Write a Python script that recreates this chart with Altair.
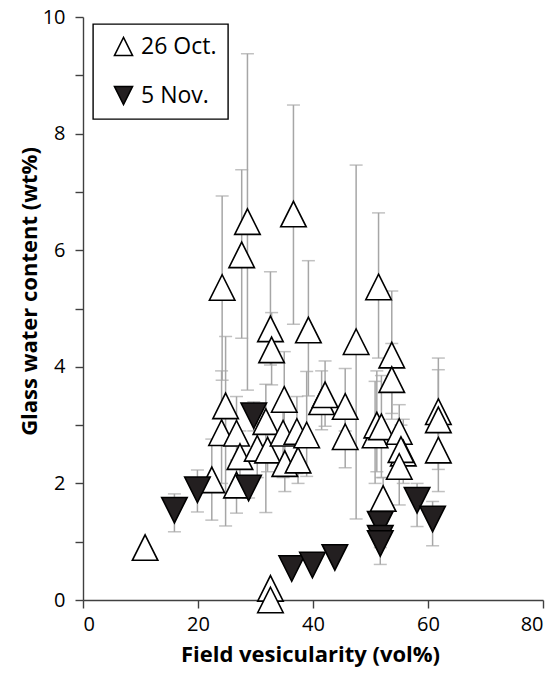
import altair as alt
import pandas as pd

# 26 Oct. (open up-triangles)
oct_x = [10.8, 22.4, 24.2, 24.8, 24.1, 26.7, 26.7, 27.3, 27.6, 28.6, 30.3, 31.8, 32.1,
         32.6, 32.8, 32.6, 32.6, 34.8, 35.0, 35.1, 36.6, 37.2, 37.4, 38.9, 39.2, 41.5,
         42.1, 45.6, 45.6, 47.5, 50.8, 51.1, 51.9, 51.4, 52.2, 53.7, 53.7, 55.0, 55.7,
         55.3, 55.0, 61.8, 61.8, 61.8]
oct_y = [0.90, 2.06, 5.36, 3.33, 2.87, 2.86, 1.97, 2.46, 5.92, 6.49, 2.60, 3.06, 2.57,
         4.65, 4.29, 0.20, 0.00, 2.86, 3.44, 2.34, 6.62, 2.89, 2.40, 2.83, 4.63, 3.40,
         3.52, 3.32, 2.80, 4.43, 2.83, 3.00, 2.97, 5.37, 1.74, 4.20, 3.78, 2.89, 2.52,
         2.58, 2.29, 3.23, 3.09, 2.57]
oct_lo = [None, 1.37, 3.77, 1.27, 2.00, 2.30, 1.49, 2.00, 4.49, 3.60, 2.10, 1.50, 2.20,
          4.03, 3.69, None, None, 2.10, 2.70, 1.86, 4.73, 2.17, 2.00, 2.12, 3.50, 2.92,
          2.98, 2.90, 2.27, 1.39, 2.00, 2.20, 2.10, 4.15, 1.40, 3.20, 3.10, 2.55, 2.00,
          2.10, 1.63, 2.50, 2.24, 1.86]
oct_hi = [None, 2.76, 6.93, 4.52, 3.93, 3.49, 2.40, 2.90, 7.38, 9.37, 3.20, 3.70, 3.00,
          5.63, 4.93, None, None, 3.30, 4.26, 2.80, 8.49, 3.49, 2.80, 3.92, 5.82, 3.93,
          4.10, 3.97, 3.30, 7.46, 3.75, 3.93, 3.85, 6.64, 2.10, 5.30, 4.40, 3.35, 3.10,
          3.00, 2.90, 4.15, 3.95, 3.00]

# 5 Nov. (filled down-triangles)
nov_x = [15.9, 19.9, 28.8, 29.7, 36.3, 39.9, 43.8, 51.7, 51.7, 51.7, 58.1, 60.8]
nov_y = [1.54, 1.89, 1.92, 3.16, 0.54, 0.60, 0.73, 1.30, 1.06, 0.97, 1.71, 1.39]
nov_lo = [1.17, 1.51, 1.75, 2.90, None, None, None, 1.10, 0.90, 0.61, 1.26, 0.93]
nov_hi = [1.82, 2.23, 2.10, 3.40, None, None, None, 1.50, 1.20, 1.10, 2.00, 1.69]

series = ["26 Oct.", "5 Nov."]

df = pd.concat([
    pd.DataFrame({"x": oct_x, "y": oct_y, "lo": oct_lo, "hi": oct_hi, "s": series[0]}),
    pd.DataFrame({"x": nov_x, "y": nov_y, "lo": nov_lo, "hi": nov_hi, "s": series[1]}),
], ignore_index=True)
df["order"] = range(len(df))

FONT = "Open Sans"
up = "M0,-1L1,1L-1,1Z"
down = "M-1,-1L1,-1L0,1Z"

xs = alt.Scale(domain=[0, 80], nice=False, zero=False)
ys = alt.Scale(domain=[0, 10], nice=False, zero=False)

x_enc = alt.X("x:Q", scale=xs, axis=alt.Axis(
    values=[0, 20, 40, 60, 80], title="Field vesicularity (vol%)", grid=False,
    tickSize=8, labelPadding=6, titleX=227, titleY=54, titleBaseline="middle",
    titleAlign="center"))
y_enc = alt.Y("y:Q", scale=ys, axis=alt.Axis(
    values=list(range(0, 11)),
    labelExpr="datum.value % 2 == 0 ? format(datum.value, 'd') : ''",
    title="Glass water content (wt%)", grid=False, tickSize=8, labelPadding=10,
    titleX=-54, titleY=274, titleBaseline="middle", titleAlign="center", titleAngle=270))

base = alt.Chart(df)
bars = base.transform_filter("isValid(datum.lo)")

rules = bars.mark_rule(color="#a6a6a6", strokeWidth=1.5).encode(
    x=alt.X("x:Q", scale=xs), y=alt.Y("lo:Q", scale=ys), y2="hi:Q")
cap_lo = bars.mark_tick(color="#a6a6a6", thickness=1.5, size=13, orient="horizontal").encode(
    x=alt.X("x:Q", scale=xs), y=alt.Y("lo:Q", scale=ys))
cap_hi = bars.mark_tick(color="#a6a6a6", thickness=1.5, size=13, orient="horizontal").encode(
    x=alt.X("x:Q", scale=xs), y=alt.Y("hi:Q", scale=ys))

leg = alt.Legend(title=None)
pts = base.mark_point(size=650, strokeWidth=1.6, opacity=1).encode(
    x=x_enc, y=y_enc,
    shape=alt.Shape("s:N", scale=alt.Scale(domain=series, range=[up, down]), legend=leg),
    fill=alt.Fill("s:N", scale=alt.Scale(domain=series, range=["white", "#231f20"]), legend=leg),
    stroke=alt.Stroke("s:N", scale=alt.Scale(domain=series, range=["black", "black"]), legend=leg),
    order=alt.Order("order:Q"),
)

chart = alt.layer(rules, cap_lo, cap_hi, pts).properties(
    width=460, height=583,
    autosize=alt.AutoSizeParams(type="none"),
    padding={"left": 83, "top": 17, "right": 12, "bottom": 76},
).configure_view(stroke=None).configure_axis(
    labelFont=FONT, labelFontSize=20, labelColor="black",
    titleFont=FONT, titleFontSize=22, titleFontWeight="bold", titleColor="black",
    domainColor="#404040", domainWidth=1.4, tickColor="#404040", tickWidth=1.4,
).configure_legend(
    orient="none", legendX=10, legendY=7, strokeColor="black", strokeWidth=1.4,
    padding=11, labelFont=FONT, labelFontSize=23, labelColor="black",
    symbolSize=330, symbolStrokeWidth=1.5,
    symbolOffset=8, labelOffset=6, rowPadding=24, fillColor="white",
)

chart.save("out.html", embed_options={"renderer": "svg", "actions": False})
